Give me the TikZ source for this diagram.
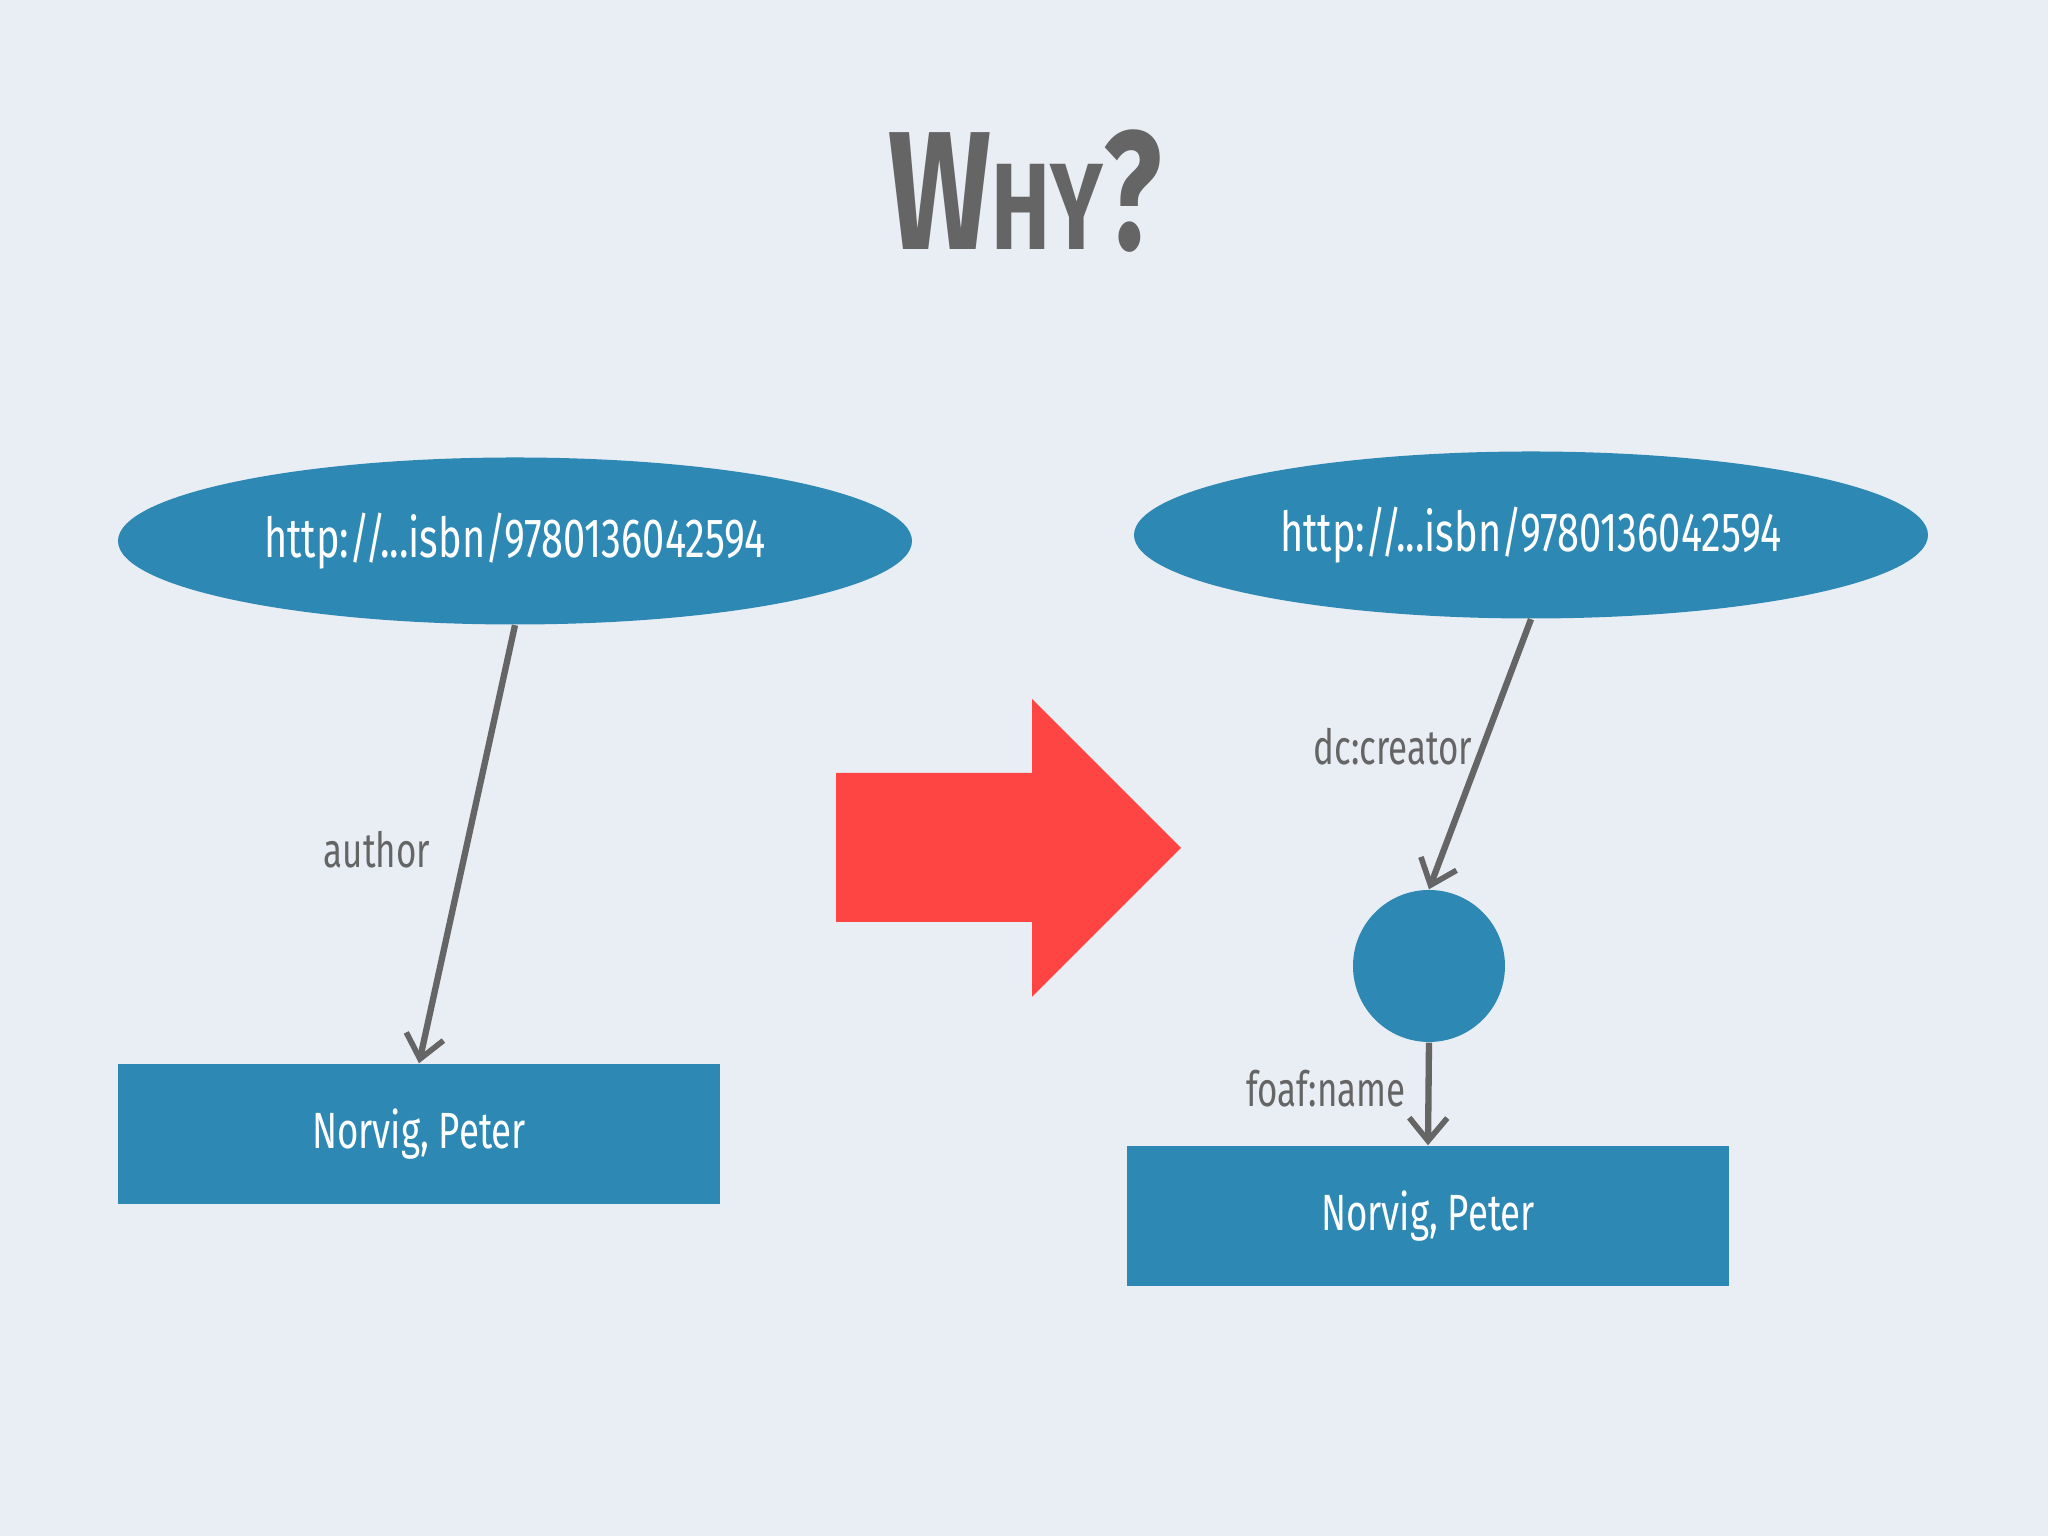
\documentclass[tikz,border=0pt]{standalone}
\usepackage{fontspec}
\setmainfont[FakeStretch=0.72]{Fira Sans}
\usetikzlibrary{arrows.meta,shapes.geometric,positioning}
\definecolor{bgcol}{HTML}{E9EEF5}
\definecolor{nodeblue}{HTML}{2E88B4}
\definecolor{linegray}{HTML}{656565}
\definecolor{bigred}{HTML}{FF4444}

\begin{document}
\begin{tikzpicture}[
resource/.style={ellipse, fill=nodeblue, text=white, minimum width=7.94cm, minimum height=1.67cm, inner sep=0pt, font=\fontsize{15.7}{19}\selectfont},
literal/.style={rectangle, fill=nodeblue, text=white, minimum width=6.02cm, minimum height=1.40cm, inner sep=0pt, font=\fontsize{14.5}{18}\selectfont},
blank/.style={circle, fill=nodeblue, minimum size=1.52cm, inner sep=0pt},
edgelabel/.style={text=linegray, font=\fontsize{13.8}{17}\selectfont},
arrow/.style={-{Straight Barb[length=2.3mm,width=3.8mm,line width=1.6pt]}, draw=linegray, line width=1.8pt}
]
\fill[bgcol] (0,0) rectangle (20.48,15.36);

\node[text=linegray, font=\bfseries] (title) at (10.25,13.45) {\fontsize{48}{56}\selectfont W\fontsize{35}{42}\selectfont HY\fontsize{48}{56}\selectfont ?};

% left graph
\node[resource] (bookL) at (5.15,9.95) {http://...isbn/9780136042594};
\node[literal] (nameL) at (4.19,4.02) {Norvig, Peter};
\draw[arrow] (bookL.south) -- (nameL.north);
\node[edgelabel] (authorlbl) at (3.77,6.86) {author};

% transformation arrow
\fill[bigred] (8.36,7.63) -- (10.32,7.63) -- (10.32,8.37) -- (11.81,6.88) -- (10.32,5.39) -- (10.32,6.14) -- (8.36,6.14) -- cycle;

% right graph
\node[resource] (bookR) at (15.31,10.01) {http://...isbn/9780136042594};
\node[blank] (creator) at (14.29,5.70) {};
\node[literal] (nameR) at (14.28,3.20) {Norvig, Peter};
\draw[arrow] (bookR.south) -- (creator.north);
\draw[arrow] (creator.south) -- (nameR.north);
\node[edgelabel] (creatorlbl) at (13.93,7.89) {dc:creator};
\node[edgelabel] (namelbl) at (13.26,4.47) {foaf:name};
\end{tikzpicture}
\end{document}
